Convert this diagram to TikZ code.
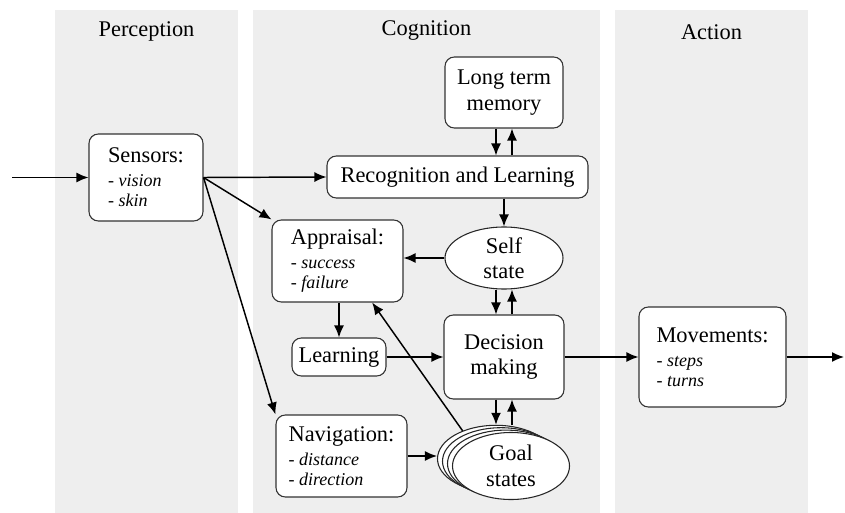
\documentclass[tikz,border=0pt]{standalone}
\usepackage{fontspec}
\setmainfont{Liberation Serif}
\usetikzlibrary{arrows.meta,shapes.geometric}

\definecolor{panelgray}{HTML}{EEEEEE}
\newcommand{\hdfont}{\fontsize{16.8pt}{19pt}\selectfont}
\newcommand{\itmfont}{\fontsize{13.5pt}{15pt}\selectfont}
\newcommand{\itm}[1]{- \textit{#1}}

\tikzset{
  panel/.style={fill=panelgray},
  title/.style={font=\hdfont, inner sep=0.75pt},
  box/.style={draw=black!80, fill=white, rounded corners=7pt, line width=0.8pt, inner sep=0pt, font=\hdfont, align=center},
  listbox/.style={box, font=\itmfont, align=left},
  state/.style={draw=black!85, fill=white, ellipse, line width=0.8pt, inner sep=0pt, font=\hdfont, align=center},
  conn/.style={-{Latex[length=9pt,width=7.5pt]}, line width=1.1pt}
}

\begin{document}
\begin{tikzpicture}[x=0.75pt,y=0.75pt,yscale=-1,xscale=1]
\useasboundingbox (0,0) rectangle (845,513);

% Panels
\fill[panel] (55,10) rectangle (238,513);
\fill[panel] (253,10) rectangle (600,513);
\fill[panel] (615,10) rectangle (808,513);

% Text Node
\node[title] (perception) at (146.5,31) {Perception};
% Text Node
\node[title] (cognition) at (426.5,31) {Cognition};
% Text Node
\node[title] (action) at (711.5,32) {Action};

% Perception
\node[listbox, minimum width=85.5pt, minimum height=65.25pt] (sensors) at (146,177.5) {{\hdfont Sensors:}\\[3pt] \itm{vision}\\ \itm{skin}};

% Cognition
\node[box, minimum width=88.5pt, minimum height=53.25pt] (ltm) at (504,92.5) {Long term\\memory};
\node[box, minimum width=195.75pt, minimum height=31.5pt] (recog) at (457.5,177) {Recognition and Learning};
\node[state, minimum width=88.5pt, minimum height=46.5pt] (self) at (504,258) {Self\\state};
\node[listbox, minimum width=98.25pt, minimum height=61.5pt] (appraisal) at (337.5,261) {{\hdfont Appraisal:}\\[3pt] \itm{success}\\ \itm{failure}};
\node[box, minimum width=70.5pt, minimum height=28.5pt] (learning) at (339,357) {Learning};
\node[box, minimum width=90pt, minimum height=63pt] (decision) at (504,357) {Decision\\making};
\node[listbox, minimum width=98.25pt, minimum height=61.5pt] (navigation) at (341.5,456) {{\hdfont Navigation:}\\[3pt] \itm{distance}\\ \itm{direction}};
\foreach \k in {3,2,1}
  \node[state, minimum width=87.75pt, minimum height=50.25pt] (goal\k) at ({511-5*\k},{466-2.4*\k}) {};
\node[state, minimum width=87.75pt, minimum height=50.25pt] (goal) at (511,466) {Goal\\states};

% Action
\node[listbox, minimum width=110.25pt, minimum height=75pt] (movements) at (712.5,357) {{\hdfont Movements:}\\[3pt] \itm{steps}\\ \itm{turns}};

\coordinate (in) at (12,177.5);
\coordinate (out) at (844,357);

% Connection
\draw[conn] (in) -- (sensors.west);
\draw[conn] (sensors.east) -- (recog.west);
\draw[conn] (sensors.east) -- (appraisal.north west);
\draw[conn] (sensors.east) -- (navigation.north west);
% Connection
\draw[conn] ([xshift=-6pt]ltm.south) -- ([xshift=-6pt]ltm.south |- recog.north);
\draw[conn] ([xshift=6pt]ltm.south |- recog.north) -- ([xshift=6pt]ltm.south);
\draw[conn] (self.north |- recog.south) -- (self.north);
\draw[conn] (self.west) -- (self.west -| appraisal.east);
\draw[conn] ([xshift=-6pt]self.south) -- ([xshift=-6pt]decision.north);
\draw[conn] ([xshift=6pt]decision.north) -- ([xshift=6pt]self.south);
% Connection
\draw[conn] (learning.north |- appraisal.south) -- (learning.north);
\draw[conn] (learning.east) -- (decision.west);
\draw[conn] ([xshift=-6pt]decision.south) -- ([xshift=-6pt]decision.south |- goal3.north);
\draw[conn] ([xshift=6pt]decision.south |- goal3.north) -- ([xshift=6pt]decision.south);
\draw[conn] (navigation.east) -- (navigation.east -| goal3.west);
\draw[conn] (goal3.140) -- ([xshift=26pt]appraisal.south);
% Connection
\draw[conn] (decision.east) -- (movements.west);
\draw[conn] (movements.east) -- (out);

\end{tikzpicture}
\end{document}
